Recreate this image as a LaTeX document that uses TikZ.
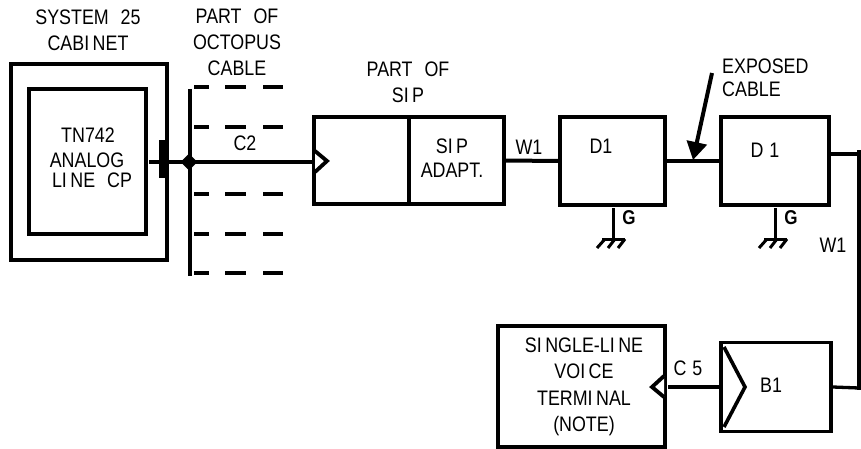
\documentclass[tikz,border=0pt]{standalone}
\usepackage{fontspec}
\setmainfont[FakeStretch=0.85,WordSpace=2.4]{Liberation Sans}
\usetikzlibrary{arrows.meta,shapes.geometric}
\newcommand{\gp}{\kern3.5pt}
\tikzset{
  box/.style={draw, line width=3.6pt, inner sep=0pt},
  lbl/.style={inner sep=0pt, align=center, font=\fontsize{21}{26}\selectfont},
  wire/.style={line width=3.3pt},
  stub/.style={line width=3.3pt},
}
\begin{document}
\begin{tikzpicture}[x=1pt,y=-1pt]
\useasboundingbox (0,0) rectangle (861,449);
% cabinet
\node[box, minimum width=156pt, minimum height=196pt] (cabinet) at (89,162) {};
\node[box, minimum width=117pt, minimum height=145pt] (card) at (87.5,161.5) {};
\node[lbl] (cabtext) at (88,30) {SYSTEM 25\\CABI\gp NET};
\node[lbl] (cardtext1) at (88,135) {TN742};
\node[lbl] (cardtext2) at (87,160) {ANALOG};
\node[lbl] (cardtext3) at (92,180) {LI\gp NE CP};
\node[fill=black, inner sep=0pt, minimum width=9pt, minimum height=38pt] (plug) at (163.5,159) {};
% octopus cable
\node[lbl] (octtext) at (237,42) {PART OF\\OCTOPUS\\CABLE};
\draw[line width=3.3pt] (190,89) -- (190,276);
\foreach \dy in {87,127,194,234,273} {
  \draw[stub] (194,\dy) -- (209,\dy);
  \draw[stub] (225,\dy) -- (246,\dy);
  \draw[stub] (263,\dy) -- (283,\dy);
}
\node[lbl] (ctwo) at (245,143) {C2};
% sip
\node[box, minimum width=95pt, minimum height=87pt] (sipleft) at (361.5,160.5) {};
\node[box, minimum width=95pt, minimum height=87pt] (sipright) at (456.5,160.5) {};
\node[lbl] (siptext) at (408,82) {PART OF\\SI\gp P};
\node[lbl, font=\fontsize{21}{24}\selectfont] (adapttext) at (452,158) {SI\gp P\\ADAPT.};
\coordinate (sipjack) at (sipleft.west);
\coordinate (cardout) at (149,162);
\draw[wire] (cardout) -- (cardout -| sipjack);
\node[fill=black, diamond, inner sep=0pt, minimum size=17pt] (joint) at (189,162) {};
\draw[line width=3.8pt, fill=white, line join=miter] (315,151) -- (327,161) -- (315,172);
% d1 boxes
\node[box, minimum width=105pt, minimum height=88pt] (dleft) at (612.5,161) {};
\node[box, minimum width=108pt, minimum height=88pt] (dright) at (775,161) {};
\node[lbl] (dltext) at (601,146) {D1};
\node[lbl] (drtext) at (765,150) {\spaceskip=6pt D 1};
\draw[line width=4pt] (sipright.east) -- (dleft.west);
\node[lbl] (wonea) at (529,147) {W1};
\draw[wire] (dleft.east) -- (dright.west);
\node[lbl, align=left, anchor=west, font=\fontsize{21}{23}\selectfont] (exptext) at (722,78) {EXPOSED\\CABLE};
\coordinate (exptail) at (712,73);
\coordinate (exptip) at (693,160);
\draw[line width=4pt, -{Triangle[length=18pt,width=20pt]}] (exptail) -- (exptip);
% grounds
\foreach \gx/\gname in {613/ga,775/gb} {
  \begin{scope}[shift={(\gx,0)}]
  \draw[line width=3pt] (0,208) -- (0,239);
  \draw[line width=3pt] (-11,239) -- (12,239);
  \draw[line width=3pt] (-8,239) -- (-16,248);
  \draw[line width=3pt] (2,239) -- (-5,248);
  \draw[line width=3pt] (12,239) -- (5,248);
  \node[lbl, font=\bfseries\fontsize{20}{20}\selectfont] (\gname) at (16,218) {G};
  \end{scope}
}
% line to bottom
\coordinate (riserend) at (859,154);
\coordinate (riserlow) at (859,388);
\draw[wire] (dright.east |- riserend) -- (riserend);
\draw[line width=4pt] (859,150) -- (859,390);
\node[lbl] (wonen) at (833,245) {\spaceskip=3pt W1};
% bottom row
\node[box, minimum width=167pt, minimum height=121pt] (term) at (581.5,386.5) {};
\node[lbl, font=\fontsize{21}{26.5}\selectfont] (termtext) at (584,387) {SI\gp NGLE-LI\gp NE\\VOI\gp CE\\TERMI\gp NAL\\(NOTE)};
\node[box, minimum width=110pt, minimum height=89pt] (bone) at (776,387) {};
\node[lbl] (bonetext) at (771,385) {B1};
\draw[line width=3.6pt] (724,347) -- (745,387) -- (724,427);
\draw[wire] (bone.west) -- (668,387);
\draw[line width=3.8pt, fill=white, line join=miter] (664,376) -- (652,387) -- (664,397);
\node[lbl] (cfive) at (688,368) {\spaceskip=6pt C 5};
\draw[wire] (bone.east) -- (riserlow);
\end{tikzpicture}
\end{document}
